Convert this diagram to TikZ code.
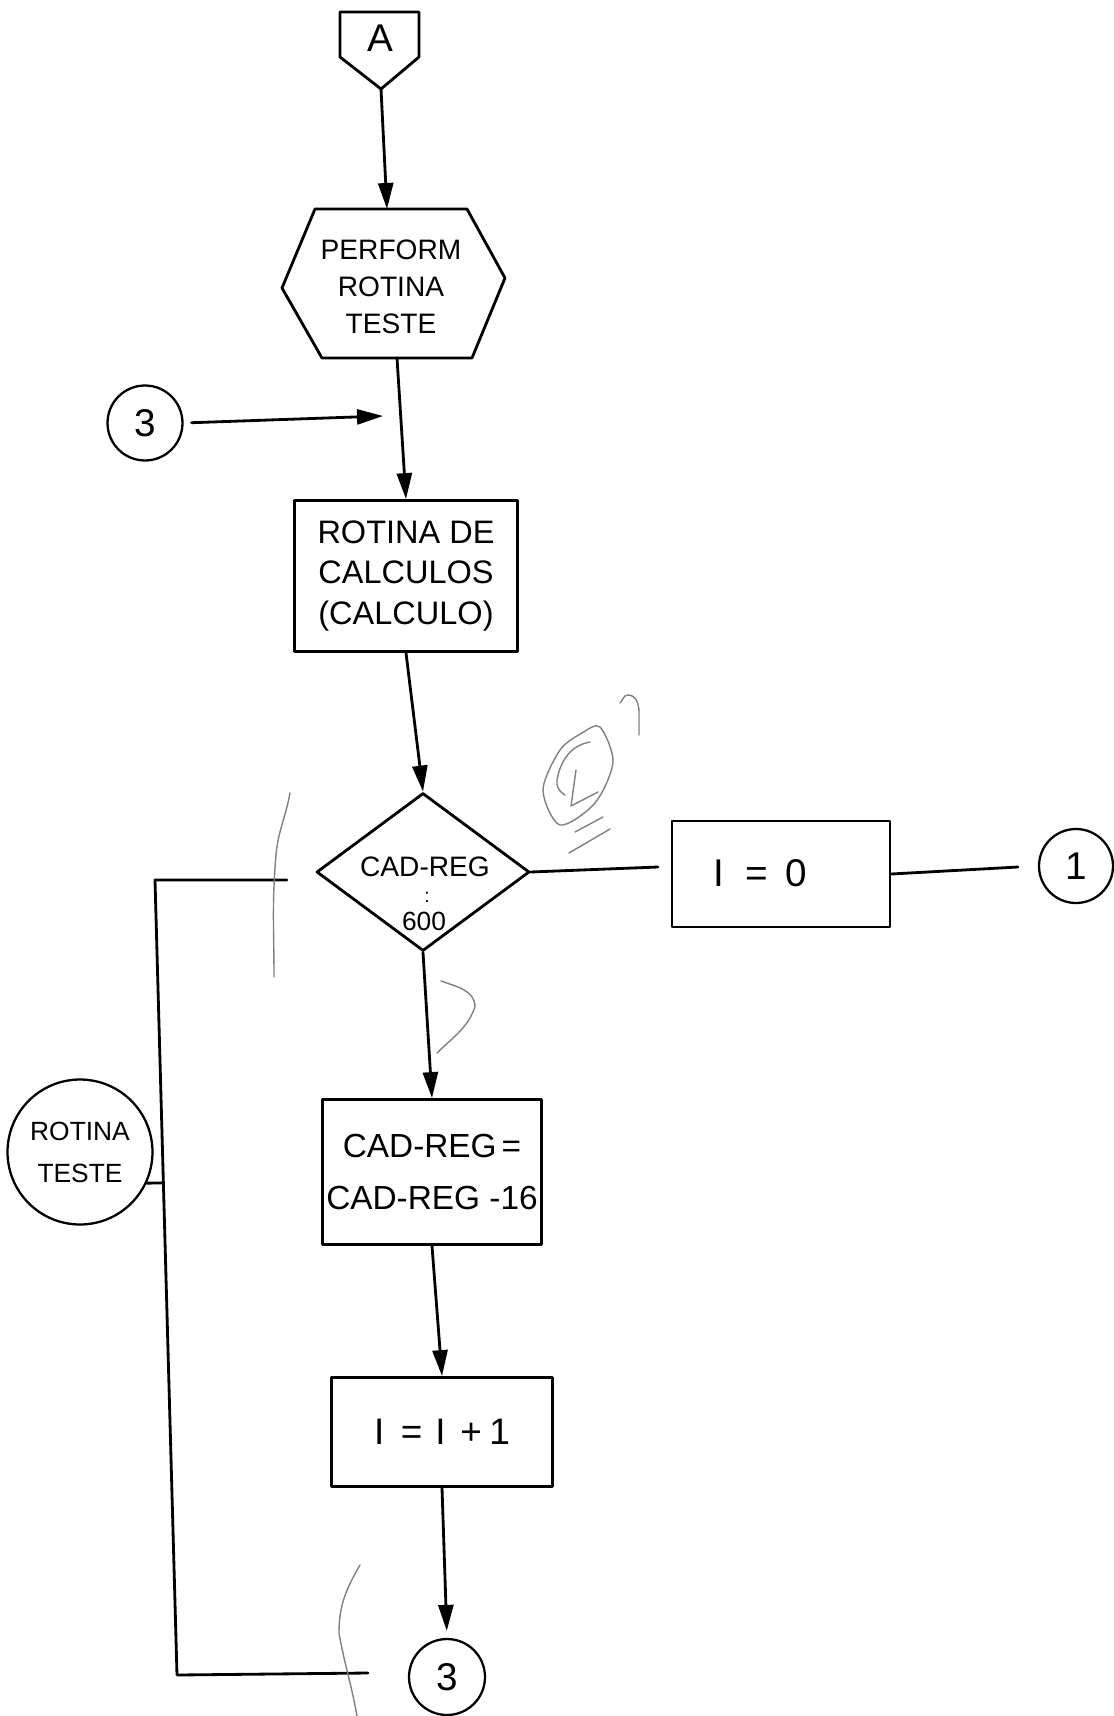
\documentclass[tikz,border=0pt]{standalone}
\usepackage{fontspec}
\setmainfont{Liberation Sans}
\usetikzlibrary{shapes.geometric,arrows.meta}
\tikzset{
  ink/.style={line width=1.6pt, line cap=round, line join=round},
  flow/.style={ink, -{Triangle[length=0.52cm,width=0.3cm]}},
  box/.style={draw, ink, inner sep=0pt, align=center},
  conn/.style={draw, circle, line width=1.3pt, inner sep=0pt, align=center},
  pencil/.style={draw=black!50, line width=0.8pt, line cap=round, line join=round},
  label/.style={inner sep=0pt, align=center},
}
\begin{document}
\begin{tikzpicture}[x=0.02cm,y=-0.02cm]
\useasboundingbox (0,0) rectangle (1114,1716);
% off-page connector A
\draw[ink] (340,12) -- (419,12) -- (419,57) -- (381,89) coordinate (aS) -- (340,57) -- cycle;
\node[label, font=\fontsize{22}{22}\selectfont] (aT) at (380,38) {A};
% hexagon
\draw[ink] (282,288) -- (315,209) -- (467,209) -- (505,278) -- (472,358) -- (322,358) -- cycle;
\coordinate (hexN) at (387,209);
\coordinate (hexS) at (397,358);
\node[label, font=\fontsize{16}{21}\selectfont] (hexT) at (391,287) {PERFORM\\ROTINA\\TESTE};
% process box
\node[box, minimum width=4.46cm, minimum height=3.02cm, font=\fontsize{18.5}{23}\selectfont] (calc) at (406,576) {ROTINA DE\\CALCULOS\\(CALCULO)};
% connector 3 (top)
\node[conn, minimum size=1.5cm, font=\fontsize{22}{22}\selectfont] (c3a) at (145,423) {3};
\coordinate (c3aEnd) at (383,416);
% decision
\node[draw, ink, diamond, minimum width=4.26cm, minimum height=3.16cm, inner sep=0pt] (dec) at (423,872) {};
\node[label, anchor=base, font=\fontsize{16}{16}\selectfont] (decT) at (425,876) {CAD-REG};
\node[label, anchor=base, font=\fontsize{11}{11}\selectfont] (decC) at (427,902) {:};
\node[label, anchor=base, font=\fontsize{15}{15}\selectfont] (decN) at (424,930) {600};
% I = 0 box
\node[box, minimum width=4.36cm, minimum height=2.12cm] (i0) at (781,874) {};
\node[label, font=\fontsize{22}{24}\selectfont] (i0T) at (760,873) {I\hspace{0.55em}=\hspace{0.45em}0};
\coordinate (dR) at (658,867);
\coordinate (iR) at (1018,867);
\node[conn, minimum size=1.48cm, font=\fontsize{22}{22}\selectfont] (c1) at (1076,866) {1};
% ROTINA TESTE connector
\node[conn, minimum size=2.9cm, font=\fontsize{15}{24}\selectfont] (rt) at (80,1152) {ROTINA\\TESTE};
\coordinate (tk) at (163,1183);
% loop line
\coordinate (lA) at (287,880);
\coordinate (lB) at (155,880);
\coordinate (lC) at (177,1675);
\coordinate (lD) at (368,1673);
% CAD-REG box
\node[box, minimum width=4.38cm, minimum height=2.9cm, font=\fontsize{19}{30}\selectfont] (cad) at (432,1172) {CAD-REG\hspace{0.15em}=\\CAD-REG -16};
% I = I + 1 box
\node[box, minimum width=4.42cm, minimum height=2.18cm, font=\fontsize{21}{24}\selectfont] (inc) at (442,1432) {I\hspace{0.45em}=\hspace{0.35em}I\hspace{0.4em}+\hspace{0.2em}1};
% connector 3 (bottom)
\node[conn, minimum size=1.52cm, font=\fontsize{22}{22}\selectfont] (c3b) at (447,1677) {3};
% connectors
\draw[flow] (aS) -- (hexN);
\draw[flow] (hexS) -- (calc.north);
\draw[flow, shorten <=0.16cm] (c3a.east) -- (c3aEnd);
\draw[flow] (calc.south) -- (dec.north);
\draw[ink] (dec.east) -- (dR);
\draw[ink] (i0.east) -- (iR);
\draw[flow] (dec.south) -- (cad.north);
\draw[flow] (cad.south) -- (inc.north);
\draw[flow, shorten >=0.14cm] (inc.south) -- (c3b.north);
\draw[ink] (lA) -- (lB) -- (lC) -- (lD);
\draw[ink] (rt.-25) -- (tk);
% pencil marks
\draw[pencil] (290,793) to[out=-100,in=85] (276,855) to[out=-95,in=90] (274,977);
\draw[pencil] (441,981) to[out=-20,in=90] (475,1007) to[out=-110,in=45] (437,1053);
\draw[pencil] plot[smooth cycle] coordinates {(600,727) (613,762) (595,803) (560,825) (543,790) (560,750) (582,733)};
\draw[pencil] (590,742) to[out=190,in=80] (557,780) to[out=-100,in=150] (565,795);
\draw[pencil] (576,770) -- (571,806) -- (598,792);
\draw[pencil] (575,832) -- (603,817);
\draw[pencil] (569,853) -- (610,829);
\draw[pencil] (620,703) to[out=45,in=180] (628,695) to[out=0,in=90] (639,712) -- (639,735);
\draw[pencil] (360,1565) to[out=-120,in=90] (339,1633) to[out=-80,in=100] (357,1716);
\end{tikzpicture}
\end{document}
